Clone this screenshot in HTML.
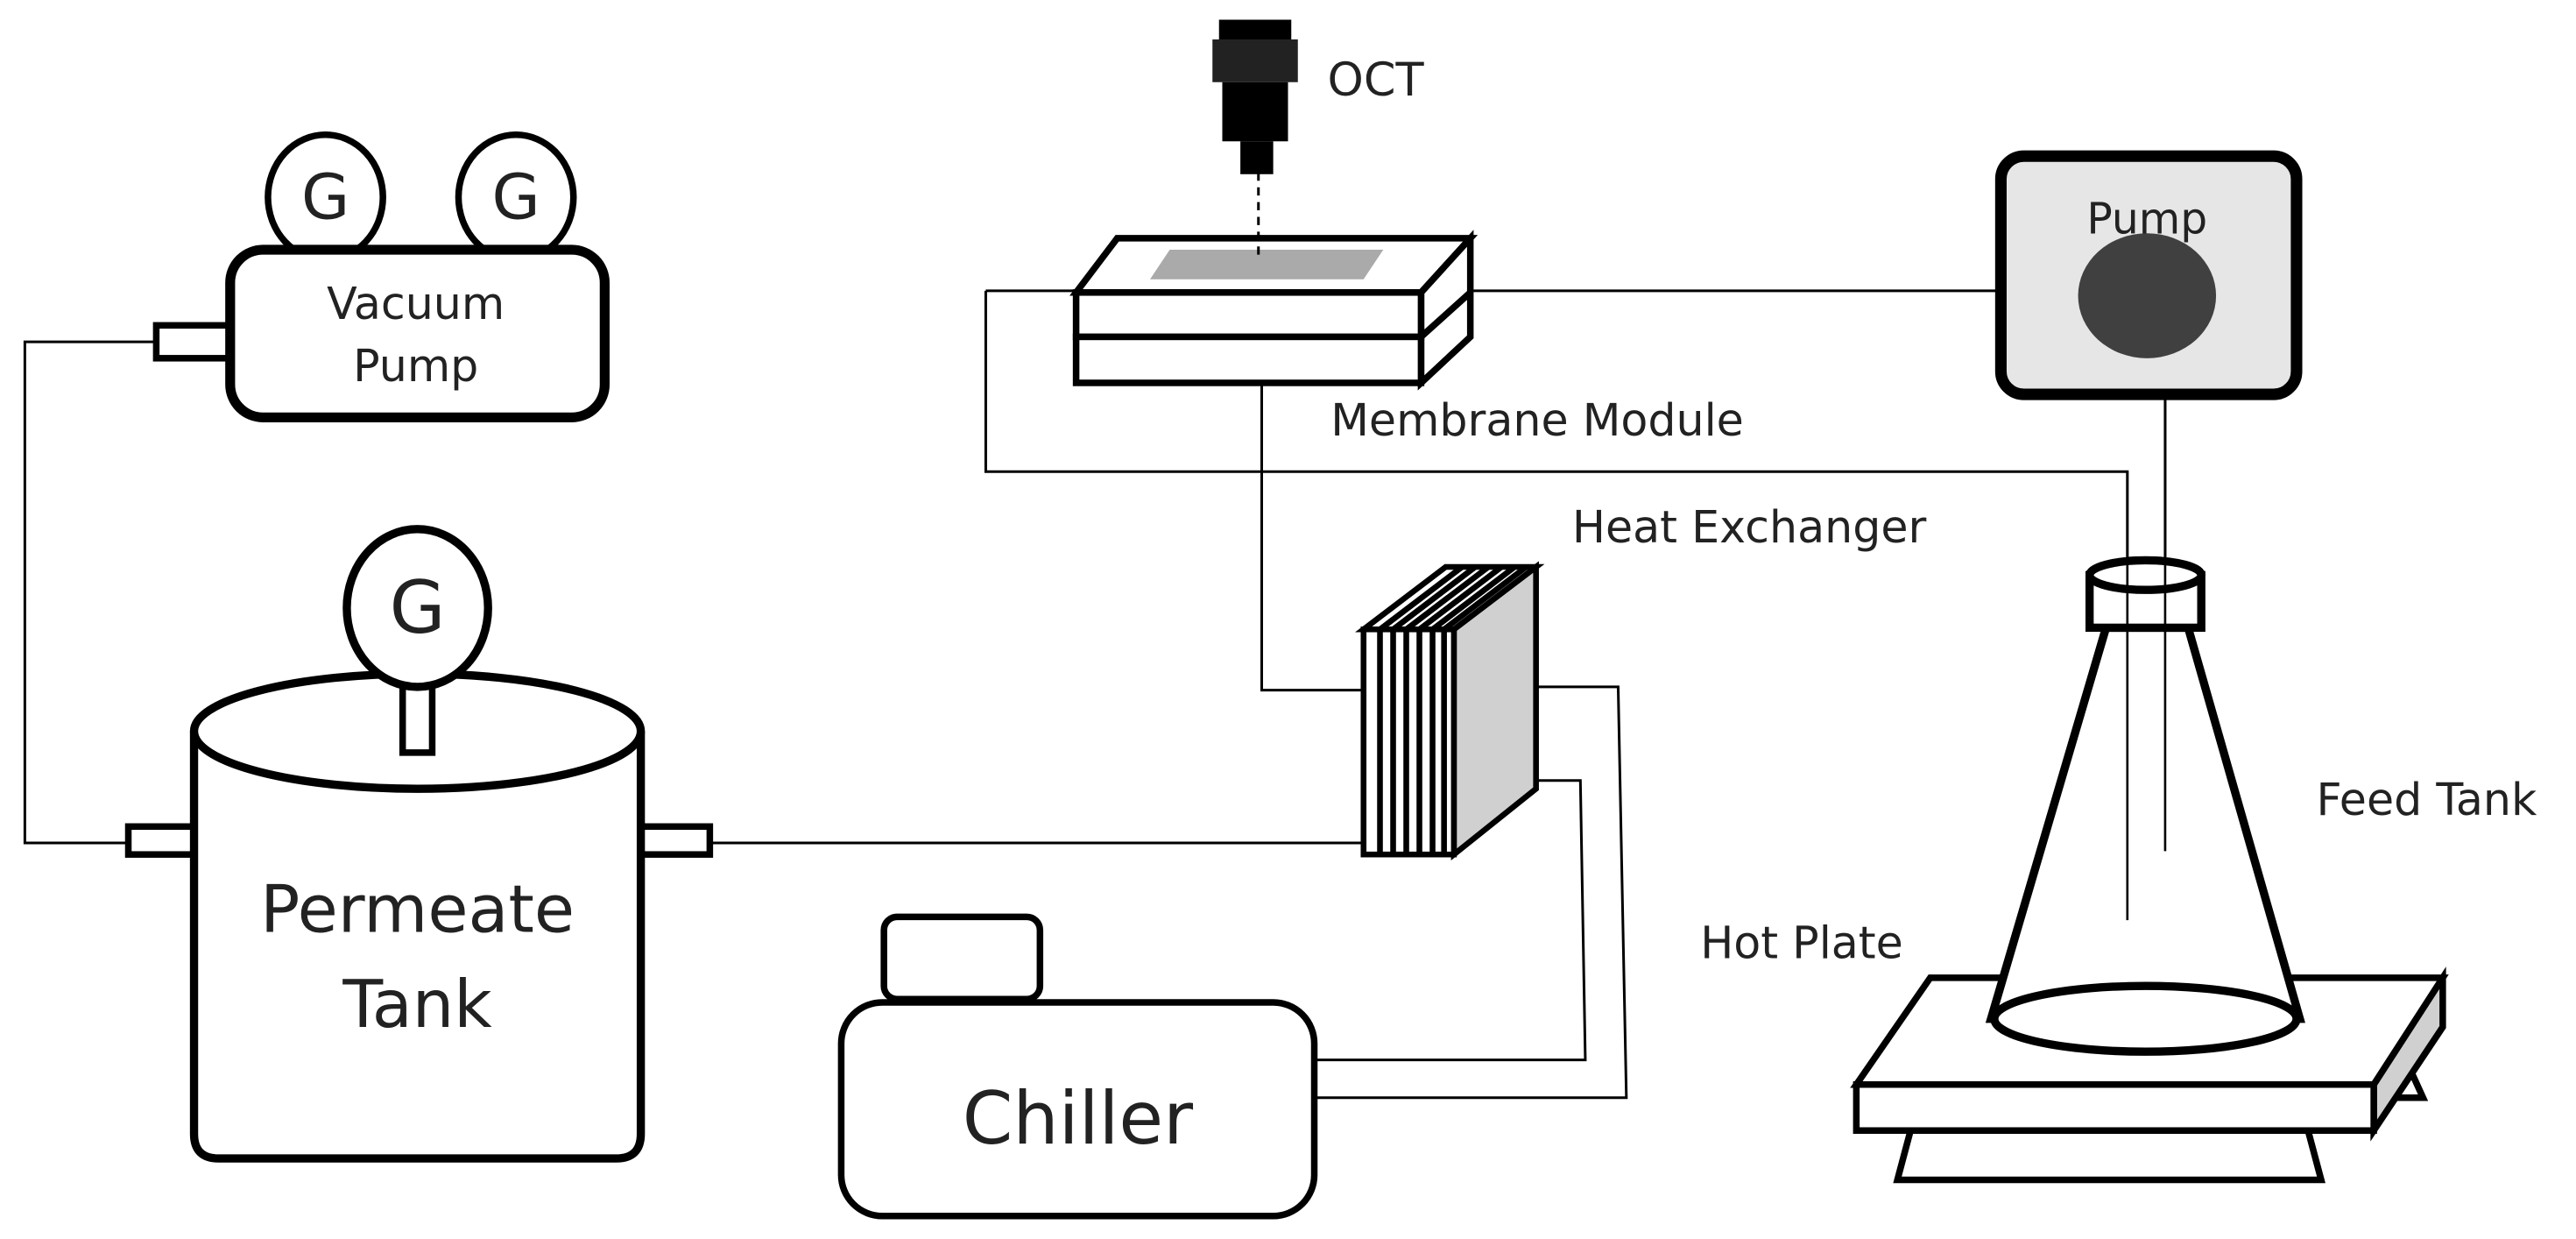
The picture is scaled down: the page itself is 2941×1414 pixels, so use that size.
<!DOCTYPE html>
<html><head><meta charset="utf-8"><style>
html,body{margin:0;padding:0;background:#fff;}
svg{display:block;}
text{font-family:"DejaVu Sans","Liberation Sans",sans-serif;fill:#222;}
</style></head><body>
<svg width="2941" height="1414" viewBox="0 0 1568 754" xmlns="http://www.w3.org/2000/svg">
<g fill="none" stroke="#000" stroke-width="1.6">
<!-- thin pipes -->
<polyline points="95,208 15,208 15,513 80,513"/>
<line x1="432" y1="513" x2="830" y2="513"/>
<polyline points="600,177 655,177"/>
<polyline points="600,177 600,287 1295,287 1295,560"/>
<line x1="895" y1="177" x2="1218" y2="177"/>
<line x1="1318" y1="240" x2="1318" y2="518"/>
<polyline points="768,233 768,420 830,420"/>
<polyline points="920,418 985,418 990,668 800,668"/>
<polyline points="920,475 962,475 965,645 800,645"/>
</g>
<!-- Vacuum pump -->
<g stroke="#000" fill="#fff">
<ellipse cx="198" cy="120" rx="35" ry="38" stroke-width="4"/>
<ellipse cx="314" cy="120" rx="35" ry="38" stroke-width="4"/>
<rect x="95" y="198" width="47" height="20" stroke-width="4"/>
<rect x="140" y="152" width="228" height="102" rx="20" stroke-width="6"/>
</g>
<text x="120" y="0" font-size="0"></text>
<text x="198" y="133" font-size="38" text-anchor="middle">G</text>
<text x="314" y="133" font-size="38" text-anchor="middle">G</text>
<text x="253" y="194" font-size="27" text-anchor="middle">Vacuum</text>
<text x="253" y="232" font-size="27" text-anchor="middle">Pump</text>
<!-- Permeate tank -->
<g stroke="#000" fill="#fff">
<rect x="78" y="503" width="42" height="17" stroke-width="4"/>
<rect x="390" y="503" width="42" height="17" stroke-width="4"/>
<path d="M118,445 L118,690 Q118,705 133,705 L375,705 Q390,705 390,690 L390,445" stroke-width="5"/>
<ellipse cx="254" cy="445" rx="136" ry="35" stroke-width="5"/>
<rect x="245" y="398" width="18" height="60" stroke-width="4"/>
<ellipse cx="254" cy="370" rx="43" ry="48" stroke-width="5"/>
</g>
<text x="254" y="385" font-size="44" text-anchor="middle">G</text>
<text x="254" y="567" font-size="40" text-anchor="middle">Permeate</text>
<text x="254" y="625" font-size="40" text-anchor="middle">Tank</text>
<!-- Chiller -->
<g stroke="#000" fill="#fff" stroke-width="4">
<rect x="538" y="558" width="95" height="50" rx="8"/>
<rect x="512" y="610" width="288" height="130" rx="25"/>
</g>
<text x="656" y="696" font-size="44" text-anchor="middle">Chiller</text>
<!-- Heat exchanger -->
<g stroke="#000" stroke-width="3.5">
<polygon points="885,383 935,345 935,480 885,520" fill="#d0d0d0"/>
<polygon points="830,383 880,345 935,345 885,383" fill="#fff"/>
<rect x="830" y="383" width="55" height="137" fill="#fff"/>
<line x1="840" y1="383" x2="840" y2="520"/><line x1="848" y1="383" x2="848" y2="520"/>
<line x1="856" y1="383" x2="856" y2="520"/><line x1="864" y1="383" x2="864" y2="520"/>
<line x1="872" y1="383" x2="872" y2="520"/><line x1="879" y1="383" x2="879" y2="520"/>
<line x1="840" y1="383" x2="890" y2="345"/><line x1="848" y1="383" x2="898" y2="345"/>
<line x1="856" y1="383" x2="906" y2="345"/><line x1="864" y1="383" x2="914" y2="345"/>
<line x1="872" y1="383" x2="922" y2="345"/><line x1="879" y1="383" x2="929" y2="345"/>
</g>
<text x="957" y="330" font-size="27">Heat Exchanger</text>
<!-- Membrane module -->
<g stroke="#000" stroke-width="4" fill="#fff">
<polygon points="655,178 680,145 895,145 865,178"/>
<polygon points="700,170 712,152 842,152 830,170" fill="#aaa" stroke="none"/>
<polygon points="865,178 895,145 895,205 865,233"/>
<line x1="865" y1="205" x2="895" y2="178"/>
<rect x="655" y="178" width="210" height="27"/>
<rect x="655" y="205" width="210" height="28"/>
</g>
<line x1="766" y1="105" x2="766" y2="158" stroke="#000" stroke-width="1.6" stroke-dasharray="5,4"/>
<!-- OCT -->
<rect x="742" y="12" width="44" height="12" fill="#000"/>
<rect x="738" y="24" width="52" height="26" fill="#222"/>
<rect x="744" y="50" width="40" height="36" fill="#000"/>
<rect x="755" y="86" width="20" height="20" fill="#000"/>
<text x="808" y="58" font-size="28">OCT</text>
<text x="810" y="265" font-size="27">Membrane Module</text>
<!-- Pump -->
<rect x="1218" y="95" width="180" height="145" rx="14" fill="#e6e6e6" stroke="#000" stroke-width="7"/>
<ellipse cx="1307" cy="180" rx="42" ry="38" fill="#404040"/>
<text x="1307" y="142" font-size="26" text-anchor="middle">Pump</text>
<!-- Hot plate -->
<g stroke="#000" stroke-width="4">
<polygon points="1460,635 1475,668 1440,668" fill="#fff"/>
<polygon points="1155,718 1163,688 1405,688 1413,718" fill="#fff"/>
<polygon points="1445,660 1487,595 1487,625 1445,688" fill="#d0d0d0"/>
<polygon points="1130,660 1175,595 1487,595 1445,660" fill="#fff"/>
<rect x="1130" y="660" width="315" height="28" fill="#fff"/>
</g>
<!-- Flask -->
<g stroke="#000" stroke-width="5" fill="#fff">
<polygon points="1282,382 1332,382 1400,620 1212,620"/>
<ellipse cx="1306" cy="620" rx="92" ry="20"/>
<rect x="1272" y="350" width="68" height="32"/>
<ellipse cx="1306" cy="350" rx="34" ry="9"/>
</g>
<line x1="1295" y1="287" x2="1295" y2="560" stroke="#000" stroke-width="1.4"/>
<line x1="1318" y1="240" x2="1318" y2="518" stroke="#000" stroke-width="1.4"/>
<text x="1035" y="583" font-size="27">Hot Plate</text>
<text x="1410" y="496" font-size="27">Feed Tank</text>
</svg>
</body></html>
